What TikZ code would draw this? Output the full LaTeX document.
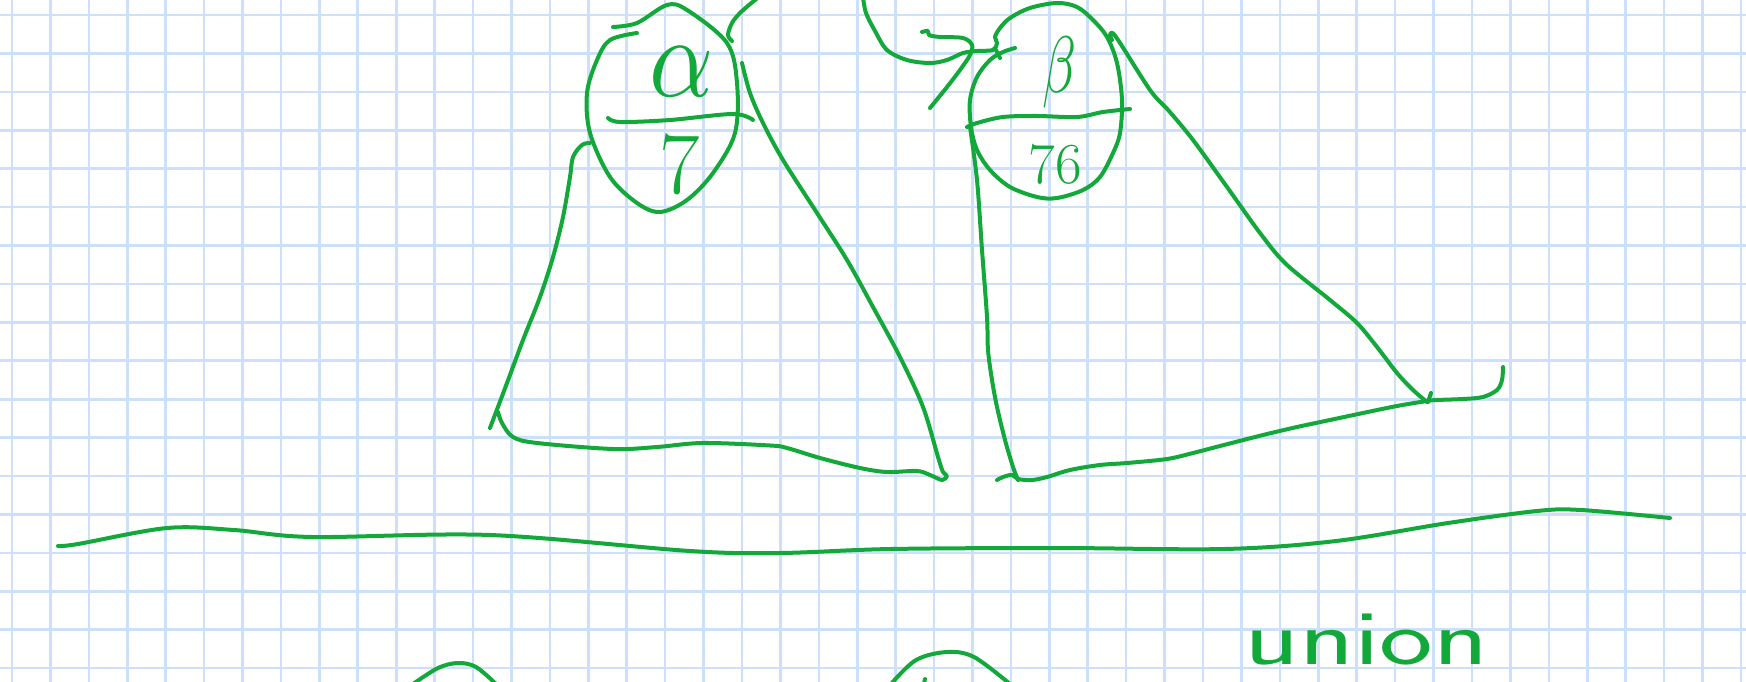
\documentclass[tikz,border=0pt]{standalone}
\usepackage{graphicx}
\definecolor{gridblue}{RGB}{204,224,252}
\definecolor{pen}{RGB}{18,168,58}
\begin{document}
\begin{tikzpicture}[x=1pt,y=-1pt,
  ink/.style={draw=pen, line width=4pt, line cap=round, line join=round},
  gridline/.style={draw=gridblue, line width=2.6pt},
  lbl/.style={text=pen, inner sep=0pt, outer sep=0pt}]
\useasboundingbox (0,0) rectangle (1746,682);
\fill[white] (0,0) rectangle (1746,682);
\foreach \k in {0,...,45} \draw[gridline] ({12+38.42*\k},0) -- ({12+38.42*\k},682);
\foreach \k in {0,...,17} \draw[gridline] (0,{15+38.42*\k}) -- (1746,{15+38.42*\k});

% left ellipse
\draw[ink] plot[smooth, tension=0.55] coordinates {(613,27) (637,23) (667,5) (687,10) (727,43) (737,83) (735,133) (713,173) (687,200) (660,212) (637,203) (610,177) (590,133) (587,93) (597,60) (610,40) (637,33)};
% left fraction line
\draw[ink] plot[smooth, tension=0.55] coordinates {(608,118) (620,122) (670,120) (733,114) (753,120)};
\node[lbl] (alpha) at (682,72) {\scalebox{10}[11.5]{$\alpha$}};
\node[lbl, font=\fontsize{88}{88}\selectfont] (seven) at (680,164) {7};

% left triangle
\draw[ink] plot[smooth, tension=0.55] coordinates {(590,143) (582,145) (573,157) (570,177) (563,217) (553,257) (540,297) (523,340) (507,383) (490,428)};
\draw[ink] plot[smooth, tension=0.55] coordinates {(498,412) (502,423) (513,437) (537,443) (613,449) (657,447) (703,443) (770,445.5) (787,448) (820,458) (860,468) (887,472) (917,471) (930,475) (942,480) (947,476) (943,472) (938,457) (923,407) (900,357) (873,307) (847,260) (817,213) (783,160) (763,123) (750,93) (742,63)};
% small top arc
\draw[ink] plot[smooth, tension=0.55] coordinates {(732,41) (728,35) (732,23) (740,13) (755,0) (762,-5)};

% long curve into right ellipse
\draw[ink] plot[smooth, tension=0.55] coordinates {(863,-3) (866,13) (875,31) (887,50) (907,60) (930,63) (947,60) (963,53) (977,51) (993,50) (997,43) (995,37) (1000,28) (1010,18) (1030,8) (1057,3) (1077,7) (1093,20) (1107,37) (1117,63) (1122,100) (1120,133) (1113,153) (1100,177) (1083,190) (1057,198) (1037,197) (1010,187) (990,170) (977,150) (971,127) (970,100) (977,77) (990,60) (1003,52) (1015,48)};
\draw[ink] (996,50) -- (1000,58);
% hook arrow
\draw[ink] plot[smooth, tension=0.55] coordinates {(922,32) (928,31) (929,35) (940,37) (963,38) (972,45) (970,55) (960,70) (947,87) (930,108)};
% right fraction line
\draw[ink] plot[smooth, tension=0.55] coordinates {(967,127) (977,123) (1003,117) (1037,116) (1077,117) (1103,112) (1130,109)};
\node[lbl] (beta) at (1059,73) {\scalebox{5.5}[8]{$\beta$}};
\node[lbl, font=\fontsize{58}{58}\selectfont] (seventysix) at (1055,164) {76};

% right triangle
\draw[ink] plot[smooth, tension=0.55] coordinates {(970,127) (977,180) (982,250) (987,317) (988,350) (992,380) (997,407) (1005,440) (1013,467) (1018,480)};
\draw[ink] plot[smooth, tension=0.55] coordinates {(997,480) (1003,477) (1012,475) (1018,479) (1032,480) (1047,477) (1070,470) (1100,465) (1127,463) (1167,459) (1193,453) (1220,446) (1263,435) (1297,427) (1330,420) (1363,413) (1397,406) (1427,401) (1437,400) (1463,399) (1483,397) (1497,390) (1502,380) (1503,367)};
\draw[ink] plot[smooth, tension=0.55] coordinates {(1112,40) (1110,35) (1116,37) (1150,90) (1169,111) (1193,140) (1227,187) (1260,233) (1286,264) (1330,300) (1357,323) (1377,347) (1397,373) (1413,390) (1427,402)};
\draw[ink] (1428,402) -- (1431,393);

% long wave
\draw[ink] plot[smooth, tension=0.55] coordinates {(58,546) (78,544) (167,528) (234,530) (312,537) (490,535) (690,551) (780,553) (891,549) (1058,548) (1225,549) (1336,541) (1448,523) (1537,511) (1581,510) (1670,518)};

% bottom arcs
\draw[ink] plot[smooth, tension=0.55] coordinates {(413,684) (438,668) (458,663) (476,667) (496,684)};
\draw[ink] plot[smooth, tension=0.55] coordinates {(891,684) (916,660) (947,652) (974,657) (1010,684)};
\draw[ink] (924,683) -- (925,679);

\node[lbl, anchor=base west, font=\sffamily\fontsize{100}{100}\selectfont] (union) at (1244,664) {\scalebox{1.14}[0.78]{union}};
\end{tikzpicture}
\end{document}
